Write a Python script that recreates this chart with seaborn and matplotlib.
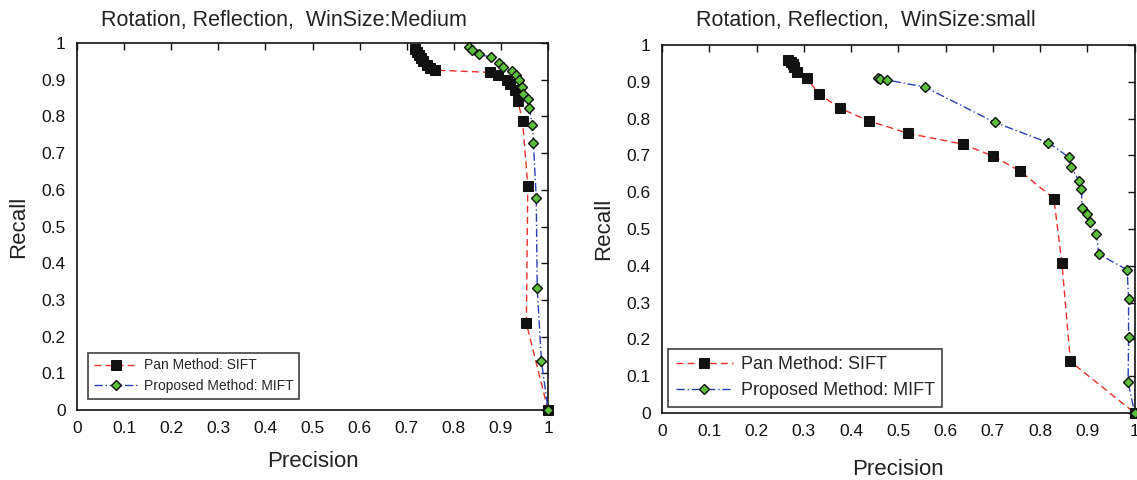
import matplotlib
matplotlib.use("Agg")
import matplotlib.pyplot as plt
import seaborn as sns
import pandas as pd

# ---- data: left panel (WinSize: Medium) ----
med_sift_p = [0.718, 0.722, 0.726, 0.730, 0.735, 0.742, 0.750, 0.760, 0.877, 0.894, 0.913, 0.919, 0.930, 0.936, 0.946, 0.957, 0.954, 1.0]
med_sift_r = [0.984, 0.975, 0.966, 0.958, 0.950, 0.940, 0.932, 0.926, 0.920, 0.913, 0.899, 0.888, 0.872, 0.842, 0.787, 0.611, 0.236, 0.0]
med_mift_p = [0.832, 0.838, 0.853, 0.878, 0.896, 0.905, 0.924, 0.933, 0.939, 0.944, 0.946, 0.958, 0.960, 0.967, 0.969, 0.975, 0.977, 0.986, 1.0]
med_mift_r = [0.988, 0.982, 0.970, 0.961, 0.945, 0.934, 0.924, 0.913, 0.899, 0.879, 0.860, 0.847, 0.824, 0.777, 0.728, 0.577, 0.333, 0.134, 0.0]

# ---- data: right panel (WinSize: small) ----
sm_sift_p = [0.267, 0.272, 0.277, 0.279, 0.285, 0.307, 0.332, 0.377, 0.438, 0.521, 0.636, 0.701, 0.757, 0.829, 0.846, 0.864, 1.0]
sm_sift_r = [0.959, 0.955, 0.948, 0.941, 0.927, 0.910, 0.867, 0.828, 0.794, 0.760, 0.731, 0.698, 0.658, 0.583, 0.407, 0.140, 0.0]
sm_mift_p = [0.456, 0.461, 0.477, 0.556, 0.704, 0.817, 0.861, 0.866, 0.882, 0.887, 0.889, 0.898, 0.906, 0.919, 0.924, 0.984, 0.987, 0.987, 0.986, 1.0]
sm_mift_r = [0.910, 0.908, 0.905, 0.886, 0.790, 0.735, 0.695, 0.669, 0.631, 0.609, 0.558, 0.540, 0.518, 0.486, 0.432, 0.389, 0.310, 0.207, 0.083, 0.0]

titles = ["Rotation, Reflection,  WinSize:Medium", "Rotation, Reflection,  WinSize:small"]
labels = ["Pan Method: SIFT", "Proposed Method: MIFT"]
ticks = [0, 0.1, 0.2, 0.3, 0.4, 0.5, 0.6, 0.7, 0.8, 0.9, 1]
tick_labels = ["0", "0.1", "0.2", "0.3", "0.4", "0.5", "0.6", "0.7", "0.8", "0.9", "1"]

sns.set_style("white")
plt.rcParams["font.family"] = ["Liberation Sans", "DejaVu Sans"]

fig = plt.figure(figsize=(11.37, 4.8), dpi=100)
ax1 = fig.add_axes([0.0677, 0.1458, 0.4143, 0.7646])
ax2 = fig.add_axes([0.5822, 0.1396, 0.4158, 0.7664])

panels = [
    (ax1, med_sift_p, med_sift_r, med_mift_p, med_mift_r, titles[0], 10.0, 0.8, 12, 0.44, 11),
    (ax2, sm_sift_p, sm_sift_r, sm_mift_p, sm_mift_r, titles[1], 13.0, 0.35, 14, 0.432, 14),
]

for ax, sp, sr, mp, mr, title, legfs, legpad, tpad, tx, xlpad in panels:
    df_s = pd.DataFrame({"Precision": sp, "Recall": sr})
    df_m = pd.DataFrame({"Precision": mp, "Recall": mr})
    sns.lineplot(data=df_s, x="Precision", y="Recall", ax=ax, sort=False, estimator=None,
                 color="#e8302a", linestyle=(0, (5, 3)), linewidth=1.0,
                 marker="s", markersize=7.5, markerfacecolor="#111111",
                 markeredgecolor="#111111", label=labels[0], clip_on=False, zorder=3)
    sns.lineplot(data=df_m, x="Precision", y="Recall", ax=ax, sort=False, estimator=None,
                 color="#2a3fb0", linestyle=(0, (6, 2, 1, 2)), linewidth=1.0,
                 marker="D", markersize=5.5, markerfacecolor="#5cbf3c",
                 markeredgecolor="#111111", markeredgewidth=1.0, label=labels[1],
                 clip_on=False, zorder=4)
    ax.set_xlim(0, 1)
    ax.set_ylim(0, 1)
    ax.set_xticks(ticks)
    ax.set_xticklabels(tick_labels)
    ax.set_yticks(ticks)
    ax.set_yticklabels(tick_labels)
    ax.tick_params(direction="in", length=5, width=1, top=True, right=True,
                   labelsize=12.5, colors="#111111", pad=8)
    for s in ax.spines.values():
        s.set_color("#111111")
        s.set_linewidth(1.2)
    ax.set_title(title, fontsize=15.5, color="#222222", pad=tpad, x=tx)
    ax.set_xlabel("Precision", fontsize=16, color="#222222", labelpad=xlpad)
    ax.set_ylabel("Recall", fontsize=16, color="#222222", labelpad=9)
    leg = ax.legend(loc="lower left", fontsize=legfs, frameon=True, fancybox=False,
                    edgecolor="#111111", borderaxespad=legpad, handlelength=3.2,
                    handletextpad=0.4, borderpad=0.4, labelspacing=0.5)
    leg.get_frame().set_linewidth(1.2)

fig.savefig("out.png", dpi=100)
